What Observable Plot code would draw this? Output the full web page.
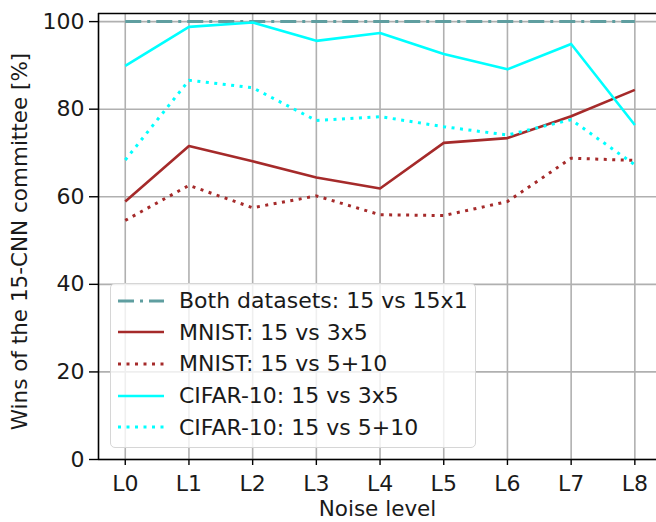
<!DOCTYPE html>
<html>
<head>
<meta charset="utf-8">
<script src="https://cdn.jsdelivr.net/npm/d3@7"></script>
<script src="https://cdn.jsdelivr.net/npm/@observablehq/plot@0.6"></script>
<style>
  html, body { margin: 0; padding: 0; background: #fff; overflow: hidden; }
  #wrap { position: relative; width: 656px; height: 522px; font-family: "DejaVu Sans", sans-serif; }
  #legend { position: absolute; left: 110px; top: 283px; width: 366px; height: 165px;
    border: 1.3px solid #d6d6d6; border-radius: 5px; background: rgba(255,255,255,0.8);
    box-sizing: border-box; }
  #legend .row { position: absolute; left: 0; height: 32px; display: flex; align-items: center; }
  #legend .row span { font-size: 22px; color: #1a1a1a; margin-left: 8px; white-space: nowrap; }
</style>
</head>
<body>
<div id="wrap"></div>
<script>
const levels = ["L0","L1","L2","L3","L4","L5","L6","L7","L8"];
const bothValues    = [100,100,100,100,100,100,100,100,100];
const mnist3x5      = [58.9,71.6,68.1,64.4,61.9,72.3,73.4,78.4,84.4];
const mnist5p10     = [54.6,62.6,57.5,60.2,55.9,55.7,58.9,68.8,68.3];
const cifar3x5      = [89.9,98.8,99.8,95.6,97.4,92.6,89.1,94.9,76.4];
const cifar5p10     = [68.4,86.6,84.9,77.4,78.3,76.0,74.1,77.6,67.3];
const seriesNames = [
  "Both datasets: 15 vs 15x1",
  "MNIST: 15 vs 3x5",
  "MNIST: 15 vs 5+10",
  "CIFAR-10: 15 vs 3x5",
  "CIFAR-10: 15 vs 5+10"
];
const yTicks = [0,20,40,60,80,100];
const xLabel = "Noise level";
const yLabel = "Wins of the 15-CNN committee [%]";

const seriesValues = [bothValues, mnist3x5, mnist5p10, cifar3x5, cifar5p10];
const styles = [
  {stroke: "#5f9ea0", dash: "16,6,3,6", width: 3},
  {stroke: "#a52a2a", dash: null, width: 2.6},
  {stroke: "#a52a2a", dash: "3,5.5", width: 3},
  {stroke: "#00ffff", dash: null, width: 2.6},
  {stroke: "#00ffff", dash: "3,5.5", width: 3}
];

const rows = [];
seriesValues.forEach((vals, s) => vals.forEach((v, i) => rows.push({s, i, v})));

const X0 = -0.42, X1 = 8.34, Y0 = 0, Y1 = 101.85;
const font = "DejaVu Sans, sans-serif";

const marks = [
  Plot.gridX(d3.range(levels.length), {stroke: "#b0b0b0", strokeOpacity: 1, strokeWidth: 1.6}),
  Plot.gridY(yTicks, {stroke: "#b0b0b0", strokeOpacity: 1, strokeWidth: 1.6}),
  ...styles.map((st, s) => Plot.line(rows.filter(r => r.s === s), {
    x: "i", y: "v", stroke: st.stroke, strokeWidth: st.width,
    strokeDasharray: st.dash || undefined, strokeLinecap: "butt", strokeLinejoin: "round"
  })),
  Plot.ruleX([X0], {stroke: "#000", strokeWidth: 1.6}),
  Plot.ruleY([Y0], {stroke: "#000", strokeWidth: 1.6}),
  Plot.ruleY([Y1], {stroke: "#000", strokeWidth: 1.6}),
  Plot.axisX(d3.range(levels.length), {tickFormat: i => levels[i], tickSize: 6, tickPadding: 10, fontSize: 22, label: null, stroke: "#000", strokeWidth: 1.4, fill: "#1a1a1a"}),
  Plot.axisY(yTicks, {tickSize: 9, tickPadding: 5, fontSize: 22, label: null, stroke: "#000", strokeWidth: 1.4, fill: "#1a1a1a"}),
  Plot.text([xLabel], {frameAnchor: "bottom", lineAnchor: "middle", textAnchor: "middle", dy: 50, fontSize: 21.5, fill: "#1a1a1a", text: d => d}),
  Plot.text([yLabel], {frameAnchor: "left", lineAnchor: "middle", textAnchor: "middle", dx: -78, dy: 5, rotate: -90, fontSize: 21.5, fill: "#1a1a1a", text: d => d})
];

const chart = Plot.plot({
  width: 656, height: 522,
  marginLeft: 98, marginRight: 0, marginTop: 13, marginBottom: 63,
  x: {type: "linear", domain: [X0, X1]},
  y: {type: "linear", domain: [Y0, Y1]},
  style: {fontFamily: font, background: "#fff", overflow: "visible"},
  marks
});
const wrap = document.getElementById("wrap");
wrap.appendChild(chart);

const legend = document.createElement("div");
legend.id = "legend";
seriesNames.forEach((name, s) => {
  const st = styles[s];
  const row = document.createElement("div");
  row.className = "row";
  row.style.top = (0.5 + s * 31.7) + "px";
  const ns = "http://www.w3.org/2000/svg";
  const svg = document.createElementNS(ns, "svg");
  svg.setAttribute("width", 60); svg.setAttribute("height", 32);
  const ln = document.createElementNS(ns, "line");
  ln.setAttribute("x1", 7); ln.setAttribute("x2", 53);
  ln.setAttribute("y1", 16); ln.setAttribute("y2", 16);
  ln.setAttribute("stroke", st.stroke); ln.setAttribute("stroke-width", st.width);
  if (st.dash) ln.setAttribute("stroke-dasharray", st.dash);
  svg.appendChild(ln);
  row.appendChild(svg);
  const t = document.createElement("span");
  t.textContent = name;
  row.appendChild(t);
  legend.appendChild(row);
});
wrap.appendChild(legend);
</script>
</body>
</html>
